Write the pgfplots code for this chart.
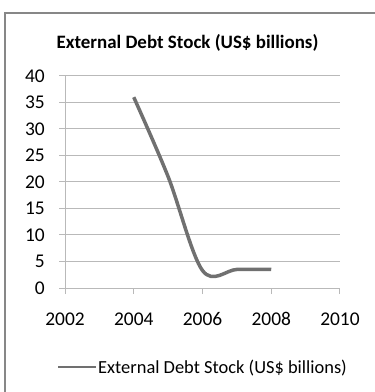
\documentclass[border=0pt]{standalone}
\usepackage{pgfplots}
\pgfplotsset{compat=1.18}
\usepackage{fontspec}
\setmainfont{Carlito}
\definecolor{lineGray}{RGB}{112,112,112}
\definecolor{gridGray}{RGB}{185,185,185}
\definecolor{frameGray}{RGB}{135,135,135}
\begin{document}
\begin{tikzpicture}[x=1bp,y=1bp]
\useasboundingbox (0,0) rectangle (375,392);
\begin{scope}
\clip (0,0) rectangle (375,392);
\draw[frameGray,line width=1.5bp] (5,-20) -- (5,379) -- (390,379);
\end{scope}
\node[font=\bfseries\fontsize{19}{21}\selectfont] at (187.5,349) {External Debt Stock (US\$ billions)};
\begin{axis}[
  at={(65bp,104bp)}, anchor=south west,
  width=275bp, height=212bp, scale only axis,
  xmin=2002, xmax=2010, ymin=0, ymax=40,
  xtick={2002,2004,...,2010}, ytick={0,5,...,40},
  /pgf/number format/1000 sep={},
  /pgf/number format/assume math mode=true,
  tick label style={font=\fontsize{19.5}{21}\selectfont},
  axis x line*=bottom, axis y line*=left,
  axis line style={gridGray, line width=1bp, -},
  ymajorgrids, grid style={gridGray, line width=1bp},
  major tick style={gridGray, line width=1bp},
  xtick pos=bottom, ytick pos=left,
  tick align=outside, major tick length=6bp,
  xticklabel style={anchor=base, yshift=-31bp, inner sep=0pt},
  yticklabel style={anchor=east, inner sep=0pt, xshift=-14bp},
  clip=false,
]
\addplot[lineGray, line width=3.5bp, smooth, tension=0.55] coordinates {
  (2004,36) (2005,21) (2006,3.3) (2007,3.5) (2008,3.5)
};
\end{axis}
\draw[lineGray, line width=2.2bp] (58,25) -- (96,25);
\node[font=\fontsize{18.5}{20}\selectfont, anchor=base west, inner sep=0pt] at (98,19) {External Debt Stock (US\$ billions)};
\end{tikzpicture}
\end{document}
